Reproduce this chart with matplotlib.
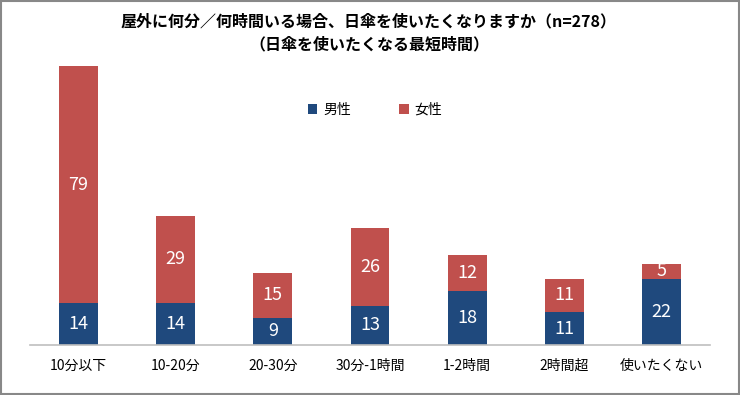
import matplotlib.pyplot as plt
from matplotlib.patches import Rectangle

plt.rcParams['font.family'] = ['Noto Sans CJK JP', 'DejaVu Sans']

categories = ['10分以下', '10-20分', '20-30分', '30分-1時間', '1-2時間', '2時間超', '使いたくない']
male = [14, 14, 9, 13, 18, 11, 22]
female = [79, 29, 15, 26, 12, 11, 5]
titleText = '屋外に何分／何時間いる場合、日傘を使いたくなりますか（n=278）\n（日傘を使いたくなる最短時間）'

blue = '#1F497D'
red = '#C0504D'


def main():
    fig = plt.figure(figsize=(7.4, 3.95), dpi=100)
    ax = fig.add_axes([30 / 740, 50 / 395, 680 / 740, 300 / 395])

    x = range(len(categories))
    ax.bar(x, male, width=0.4, color=blue, label='男性')
    ax.bar(x, female, width=0.4, bottom=male, color=red, label='女性')

    for i in x:
        ax.text(i, male[i] / 2, str(male[i]), ha='center', va='center',
                color='white', fontsize=13)
        ax.text(i, male[i] + female[i] / 2, str(female[i]), ha='center', va='center',
                color='white', fontsize=13)

    ax.set_xlim(-0.5, len(categories) - 0.5)
    ax.set_ylim(0, 100)
    ax.set_xticks(list(x))
    ax.set_xticklabels(categories, fontsize=10)
    ax.tick_params(axis='x', length=0, pad=10)
    ax.set_yticks([])
    for side in ['left', 'right', 'top']:
        ax.spines[side].set_visible(False)
    ax.spines['bottom'].set_color('#BFBFBF')
    ax.spines['bottom'].set_linewidth(1.2)

    ax.legend(loc='center', bbox_to_anchor=(375 / 740, (395 - 110) / 395),
              bbox_transform=fig.transFigure, ncol=2, frameon=False,
              fontsize=10, handlelength=0.7, handleheight=0.7,
              columnspacing=3.5, handletextpad=0.4)

    fig.text(369 / 740, 1 - 33 / 395, titleText, ha='center', va='center',
             fontsize=11.5, fontweight='bold', linespacing=1.6)

    fig.patches.append(Rectangle((0.001, 0.002), 0.997, 0.995, transform=fig.transFigure,
                                 fill=False, edgecolor='#888888', linewidth=1.5))

    fig.savefig('out.png', dpi=100)


if __name__ == '__main__':
    main()
